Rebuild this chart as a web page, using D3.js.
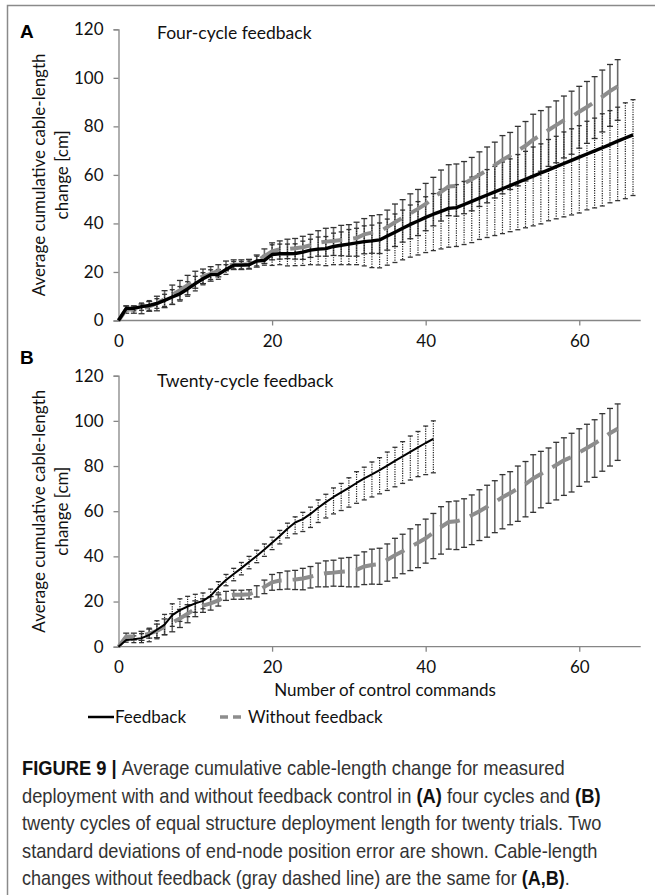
<!DOCTYPE html>
<html>
<head>
<meta charset="utf-8">
<script src="https://cdn.jsdelivr.net/npm/d3@7/dist/d3.min.js"></script>
<style>
  html, body { margin: 0; padding: 0; background: #fff; }
  svg { display: block; }
</style>
</head>
<body>
<div id="chart"></div>
<script>
// ---------------------------------------------------------------------
// data, index = number of control commands

// without feedback (gray dashed) -- same in A and B
var noFeedback = [0, 4.5, 4.5, 4.8, 5.8, 7.0, 8.8, 10.6, 12.5, 14.6,
                  16.8, 18.2, 19.2, 20.5, 22.5, 23.0, 23.0, 23.2, 24.5, 26.5,
                  28.5, 29.3, 29.5, 29.8, 30.2, 31.0, 32.0, 32.5, 32.8, 33.2,
                  33.5, 34.0, 35.5, 36.2, 36.6, 38.5, 40.5, 42.3, 44.2, 46.0,
                  48.0, 50.5, 53.0, 55.2, 55.5, 56.5, 58.2, 60.0, 62.0, 64.0,
                  66.2, 68.0, 70.0, 72.0, 74.5, 76.5, 78.5, 80.5, 82.5, 84.0,
                  86.0, 88.0, 90.0, 92.2, 94.5, 96.5];
var noFeedbackUp = [0, 1.5, 1.5, 2, 2, 3, 3.5, 4, 4, 4,
                    3.5, 3, 3, 2.5, 2, 2, 2, 2, 2.5, 3,
                    3.5, 3.5, 4, 4, 4.5, 4.5, 5, 5.5, 5.5, 6,
                    6, 6.5, 6.5, 7, 7, 7, 7.5, 7.5, 8, 8,
                    8.5, 8.5, 9, 9, 9, 9, 9, 9.5, 9.5, 9.5,
                    10, 9.5, 10, 10, 10.5, 10, 9.5, 10, 10, 10.5,
                    10.5, 10.5, 10.5, 11, 11, 11];
var noFeedbackDown = [0, 1.5, 1.5, 2, 2, 3, 3.5, 4, 4, 4,
                      3.5, 3, 3, 2.5, 2, 2, 2, 2, 2.5, 3,
                      3.5, 4, 4, 4.5, 5, 5, 5.5, 6, 6, 6.5,
                      7, 7.5, 8, 8.5, 9, 9.5, 10, 10, 10.5, 11,
                      11, 11.5, 12, 12, 12.5, 12.5, 13, 13, 13.5, 13.5,
                      14, 14, 14.5, 14.5, 15, 15, 15, 15.5, 15.5, 15.5,
                      15, 15, 15, 14.5, 14.5, 14];

// four-cycle feedback (A)
var feedbackA = [0, 5.0, 5.0, 5.7, 6.2, 7.0, 8.3, 9.7, 11.0, 13.0,
                 15.2, 17.2, 18.9, 19.0, 21.0, 22.8, 22.8, 23.0, 24.5, 24.8,
                 27.2, 27.5, 27.5, 27.6, 28.2, 29.0, 29.4, 29.6, 30.5, 31.0,
                 31.5, 32.0, 32.5, 32.8, 33.2, 34.8, 36.4, 38.0, 39.6, 41.0,
                 42.5, 43.8, 45.0, 46.2, 46.5, 47.8, 49.1, 50.4, 51.7, 53.0,
                 54.3, 55.6, 56.9, 58.2, 59.5, 60.8, 62.1, 63.4, 64.7, 66.0,
                 67.3, 68.6, 69.9, 71.2, 72.5, 73.9, 75.2, 76.5];
var feedbackAUp = [0, 1, 1, 1.5, 2, 2, 2.5, 3, 3, 3,
                   3, 2.5, 2, 2, 2, 1.5, 1.5, 1.5, 2, 2,
                   4, 4, 4, 4, 4.5, 4.5, 5, 5, 5.5, 5.5,
                   6, 6, 6.5, 6.5, 7, 7, 7.5, 7.5, 8, 8,
                   8.5, 8.5, 9, 9, 9.5, 9.5, 10, 10, 10.5, 10.5,
                   11, 11, 11.5, 11.5, 12, 12, 12.5, 12.5, 13, 13,
                   13, 13.5, 13.5, 14, 14, 14, 14.5, 14.5];
var feedbackADown = [0, 1, 1, 1.5, 2, 2, 2.5, 3, 3, 3,
                     3, 2.5, 2, 2, 2, 1.5, 1.5, 1.5, 2, 2,
                     4.5, 4.5, 5, 5, 5.5, 6, 6.5, 7, 7.5, 8,
                     8.5, 9, 10, 11, 11.5, 12, 12.5, 13, 13.5, 14,
                     14.5, 15, 15.5, 16, 16, 16.5, 17, 17, 17.5, 18,
                     18.5, 19, 19.5, 20, 20.5, 21, 21, 21.5, 22, 22.5,
                     23, 23, 23.5, 24, 24, 24.5, 25, 25];

// twenty-cycle feedback (B)
var feedbackB = [0, 3.0, 3.3, 3.8, 5.2, 7.5, 9.8, 14.0, 16.2, 17.8,
                 19.2, 20.3, 22.5, 26.3, 29.5, 32.2, 34.8, 37.5, 40.2, 43.0,
                 46.0, 49.0, 52.2, 55.0, 56.5, 58.8, 61.5, 64.0, 66.3, 68.3,
                 70.3, 72.5, 74.5, 76.3, 78.2, 80.2, 82.3, 84.3, 86.3, 88.3,
                 90.2, 92.0];
var feedbackBUp = [0, 1, 1.5, 2, 3, 4, 4.5, 5, 5, 4.5,
                   4, 3.5, 3, 2.5, 2.5, 2.5, 2.5, 2.5, 2.5, 2.5,
                   2.5, 2.5, 2.5, 2.5, 3, 3, 3.5, 3.5, 4, 4,
                   4.5, 5, 5, 5.5, 5.5, 6, 6, 6.5, 7, 7,
                   7.5, 8];
var feedbackBDown = [0, 1, 1.5, 2, 3, 4, 4.5, 5, 5, 4.5,
                     4, 3.5, 3, 2.5, 2.5, 3, 3, 3, 3, 3,
                     3, 3.5, 4, 5, 5.5, 6, 6.5, 7, 7.5, 8,
                     8.5, 9, 9.5, 10, 10.5, 11, 11.5, 12, 12.5, 13,
                     14, 15];

var yTicks = [0, 20, 40, 60, 80, 100, 120];
var xTicks = [0, 20, 40, 60];

var panels = [
    { letter: "A", title: "Four-cycle feedback", top: 29.3, bottom: 320.5,
      letterY: 38, titleY: 39,
      feedback: feedbackA, up: feedbackAUp, down: feedbackADown, fbWidth: 3.4 },
    { letter: "B", title: "Twenty-cycle feedback", top: 375.7, bottom: 646.7,
      letterY: 364, titleY: 387,
      feedback: feedbackB, up: feedbackBUp, down: feedbackBDown, fbWidth: 2 }
];

var captionLines = [
    [["FIGURE 9 | ", true], ["Average cumulative cable-length change for measured", false]],
    [["deployment with and without feedback control in ", false], ["(A)", true],
     [" four cycles and ", false], ["(B)", true]],
    [["twenty cycles of equal structure deployment length for twenty trials. Two", false]],
    [["standard deviations of end-node position error are shown. Cable-length", false]],
    [["changes without feedback (gray dashed line) are the same for ", false], ["(A,B)", true], [".", false]]
];
var captionWidths = [543, 579, 580, 576, 548];

// ---------------------------------------------------------------------
var W = 655, H = 895,
    chartFont = "Lato, 'Open Sans', sans-serif",
    axisColor = "#868686",
    grayLine = "#8d8d8d";

var svg = d3.select("#chart").append("svg")
    .attr("width", W).attr("height", H)
    .style("background", "#fff");

// outer frame
svg.append("path")
    .attr("d", "M7.5," + H + "V5.5H" + W)
    .attr("fill", "none").attr("stroke", "#8a8a8a").attr("stroke-width", 1.5);

var x = d3.scaleLinear().domain([0, 68]).range([118.5, 640.7]);

panels.forEach(function(p) {
    var y = d3.scaleLinear().domain([0, 120]).range([p.bottom, p.top]);
    var g = svg.append("g");

    // axes
    var ya = g.append("g").attr("transform", "translate(" + x(0) + ",0)")
        .call(d3.axisLeft(y).tickValues(yTicks).tickSize(5).tickPadding(10));
    var xa = g.append("g").attr("transform", "translate(0," + y(0) + ")")
        .call(d3.axisBottom(x).tickValues(xTicks).tickSize(5).tickPadding(9));
    [ya, xa].forEach(function(a) {
        a.select(".domain").attr("stroke", axisColor).attr("stroke-width", 1.3);
        a.selectAll(".tick line").attr("stroke", axisColor).attr("stroke-width", 1.3);
        a.selectAll(".tick text").attr("fill", "#111")
            .style("font-family", chartFont).style("font-size", "17px");
    });
    xa.select(".domain").attr("d", "M" + x(0) + ",0H" + x(68));
    xa.selectAll(".tick").filter(function(d) { return d === 0; }).select("line").remove();

    // panel letter + title
    g.append("text").attr("x", 20).attr("y", p.letterY)
        .style("font-family", "'Liberation Sans', Arial, sans-serif")
        .style("font-weight", "bold").style("font-size", "19px").text(p.letter);
    g.append("text").attr("x", 157).attr("y", p.titleY)
        .style("font-family", chartFont).style("font-size", "17.5px").attr("fill", "#111")
        .text(p.title);

    // y title
    var cy = (p.top + p.bottom) / 2;
    var yt = g.append("text")
        .attr("transform", "translate(45," + cy + ") rotate(-90)")
        .attr("text-anchor", "middle")
        .style("font-family", chartFont).style("font-size", "17px").attr("fill", "#111");
    yt.append("tspan").attr("x", 0).attr("y", 0).text("Average cumulative cable-length");
    yt.append("tspan").attr("x", 0).attr("y", 23).text("change [cm]");

    // error bars
    function errorBars(vals, up, down, cls, stroke, width, dash, capStroke, capW) {
        var eb = g.append("g").attr("class", cls)
            .selectAll("g").data(vals).enter().append("g")
            .filter(function(d, i) { return i > 0; });
        eb.append("line")
            .attr("x1", function(d, i) { return x(i + 1); })
            .attr("x2", function(d, i) { return x(i + 1); })
            .attr("y1", function(d, i) { return y(d + up[i + 1]); })
            .attr("y2", function(d, i) { return y(d - down[i + 1]); })
            .attr("stroke", stroke).attr("stroke-width", width)
            .attr("stroke-dasharray", dash);
        [up, down].forEach(function(e, k) {
            eb.append("line")
                .attr("x1", function(d, i) { return x(i + 1) - capW / 2; })
                .attr("x2", function(d, i) { return x(i + 1) + capW / 2; })
                .attr("y1", function(d, i) { return y(k ? d - e[i + 1] : d + e[i + 1]); })
                .attr("y2", function(d, i) { return y(k ? d - e[i + 1] : d + e[i + 1]); })
                .attr("stroke", capStroke).attr("stroke-width", 1.3);
        });
    }
    errorBars(noFeedback, noFeedbackUp, noFeedbackDown, "err-nf", "#6a6a6a", 1.6, null, "#333", 6);
    errorBars(p.feedback, p.up, p.down, "err-fb", "#222", 1.2, "1.2,1.2", "#333", 5);

    // lines
    var line = d3.line()
        .x(function(d, i) { return x(i); })
        .y(function(d) { return y(d); });
    g.append("path").datum(noFeedback)
        .attr("d", line).attr("fill", "none")
        .attr("stroke", grayLine).attr("stroke-width", 4)
        .attr("stroke-dasharray", "21,11");
    g.append("path").datum(p.feedback)
        .attr("d", line).attr("fill", "none")
        .attr("stroke", "#000").attr("stroke-width", p.fbWidth)
        .attr("stroke-linejoin", "round");
});

// x title
svg.append("text").attr("x", 385).attr("y", 696).attr("text-anchor", "middle")
    .style("font-family", chartFont).style("font-size", "17px").attr("fill", "#111")
    .text("Number of control commands");

// legend
var leg = svg.append("g").style("font-family", chartFont).style("font-size", "17px");
leg.append("line").attr("x1", 88).attr("x2", 114).attr("y1", 717).attr("y2", 717)
    .attr("stroke", "#000").attr("stroke-width", 2.5);
leg.append("text").attr("x", 115).attr("y", 723).attr("fill", "#111").text("Feedback");
leg.append("line").attr("x1", 220).attr("x2", 242).attr("y1", 717).attr("y2", 717)
    .attr("stroke", grayLine).attr("stroke-width", 3.5).attr("stroke-dasharray", "8,5");
leg.append("text").attr("x", 248).attr("y", 723).attr("fill", "#111").text("Without feedback");

// caption: condensed look by squeezing each line horizontally to its width
var cap = svg.append("g")
    .style("font-family", "'Liberation Sans Narrow', 'Liberation Sans', Arial, sans-serif")
    .style("font-size", "20px").attr("fill", "#333");
captionLines.forEach(function(parts, li) {
    var t = cap.append("text").attr("x", 0).attr("y", 0);
    parts.forEach(function(pt) {
        t.append("tspan").text(pt[0])
            .style("font-weight", pt[1] ? "bold" : "normal")
            .attr("fill", pt[1] ? "#111" : "#333");
    });
    var natural = t.node().getComputedTextLength();
    var sx = natural > 0 ? captionWidths[li] / natural : 1;
    t.attr("transform", "translate(22," + (775 + li * 27.6) + ") scale(" + sx + ",1)");
});
</script>
</body>
</html>
